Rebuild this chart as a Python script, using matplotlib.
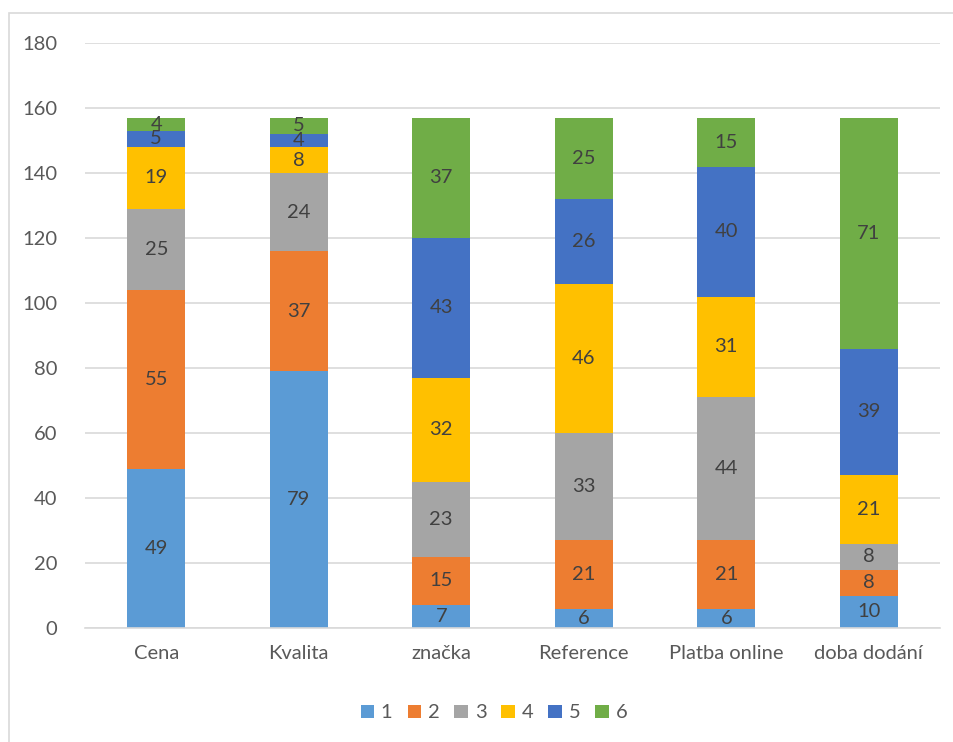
import matplotlib.pyplot as plt
import numpy as np
from matplotlib.patches import Rectangle

plt.rcParams['font.family'] = ['Lato', 'DejaVu Sans']

# Data
categories = ['Cena', 'Kvalita', 'značka', 'Reference', 'Platba online', 'doba dodání']
series_names = ['1', '2', '3', '4', '5', '6']
s1 = [49, 79, 7, 6, 6, 10]
s2 = [55, 37, 15, 21, 21, 8]
s3 = [25, 24, 23, 33, 44, 8]
s4 = [19, 8, 32, 46, 31, 21]
s5 = [5, 4, 43, 26, 40, 39]
s6 = [4, 5, 37, 25, 15, 71]
colors = ['#5B9BD5', '#ED7D31', '#A5A5A5', '#FFC000', '#4472C4', '#70AD47']

fig = plt.figure(figsize=(9.54, 7.42), dpi=100)
W, H = 954, 742
ax = fig.add_axes([85 / W, 1 - 628 / H, 855 / W, 585 / H])

# Chart frame
fig.patches.append(Rectangle((9 / W, -0.1), 1.2, 1 - 13 / H + 0.1, transform=fig.transFigure,
                             fill=False, edgecolor='#D9D9D9', linewidth=1.2))

x = np.arange(len(categories))
bottom = np.zeros(len(categories))
for name, vals, c in zip(series_names, [s1, s2, s3, s4, s5, s6], colors):
    bars = ax.bar(x, vals, width=0.41, bottom=bottom, color=c, label=name, zorder=2)
    ax.bar_label(bars, labels=[str(v) for v in vals], label_type='center',
                 fontsize=14.5, color='#404040')
    bottom += np.array(vals)

ax.set_xlim(-0.5, len(categories) - 0.5)
ax.set_ylim(0, 180)
ax.set_yticks(np.arange(0, 181, 20))
ax.set_xticks(x)
ax.set_xticklabels(categories)
ax.yaxis.grid(True, color='#D9D9D9', linewidth=1.2, zorder=0)
ax.set_axisbelow(True)
for sp in ['top', 'right', 'left']:
    ax.spines[sp].set_visible(False)
ax.spines['bottom'].set_color('#D9D9D9')
ax.spines['bottom'].set_linewidth(1.2)
ax.tick_params(axis='both', length=0, labelsize=14.5, labelcolor='#595959')
ax.tick_params(axis='y', pad=20)
ax.tick_params(axis='x', pad=12)

leg = fig.legend(loc='center', bbox_to_anchor=(494 / W, 1 - 713 / H), ncol=6, frameon=False,
                 fontsize=14.5, handlelength=0.65, handleheight=0.65, columnspacing=0.75,
                 handletextpad=0.35)
for t in leg.get_texts():
    t.set_color('#595959')

plt.savefig('out.png', dpi=100)
